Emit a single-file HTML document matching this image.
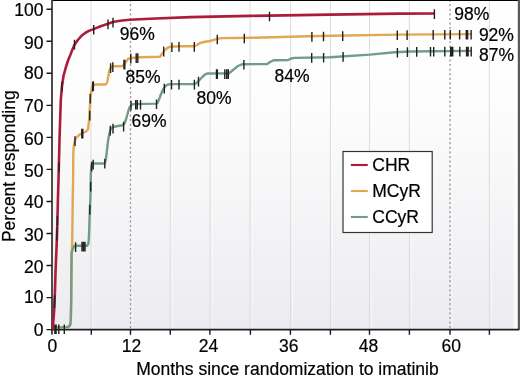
<!DOCTYPE html><html><head><meta charset="utf-8"><style>html,body{margin:0;padding:0;background:#fff;}svg{display:block;will-change:transform;}text{font-family:"Liberation Sans",sans-serif;fill:#000;stroke:#000;stroke-width:0.2px;}</style></head><body>
<svg width="520" height="378" viewBox="0 0 520 378">
<defs><linearGradient id="bg" x1="0" y1="0" x2="0" y2="1"><stop offset="0" stop-color="#ffffff"/><stop offset="0.3" stop-color="#fdfdfd"/><stop offset="1" stop-color="#ececf0"/></linearGradient></defs>
<rect x="52.0" y="0" width="466.5" height="329.6" fill="url(#bg)"/>
<path d="M90.9,1V328.6M170.3,1V328.6M210.1,1V328.6M250.1,1V328.6M290.6,1V328.6M330.4,1V328.6M369.5,1V328.6M409.4,1V328.6M489.4,1V328.6" stroke="#dcdcdc" stroke-width="1" fill="none"/>
<path d="M92.9,1V328.6M132.5,1V328.6M172.3,1V328.6M212.1,1V328.6M252.1,1V328.6M292.6,1V328.6M332.4,1V328.6M371.5,1V328.6M411.4,1V328.6M452.0,1V328.6M491.4,1V328.6" stroke="#ffffff" stroke-width="1.3" stroke-opacity="0.4" fill="none"/>
<path d="M130.5,1V328.6M450.0,1V328.6" stroke="#9a9a9a" stroke-width="1.3" stroke-dasharray="2.2,2.4" stroke-dashoffset="1.5" fill="none"/>
<path d="M52.0,0.5H519.5" stroke="#000" stroke-width="1.1" fill="none"/>
<rect x="513.6" y="1" width="4" height="328" fill="#ffffff" opacity="0.7"/>
<rect x="517.8" y="0" width="2.2" height="329.8" fill="#5a5a5a"/>
<path d="M52.0,0V334.6" stroke="#444" stroke-width="1.9" fill="none"/>
<path d="M51.2,329.7H519.2" stroke="#1e1e1e" stroke-width="1.8" fill="none"/>
<path d="M46.5,329.6H52.0M46.5,297.6H52.0M46.5,265.5H52.0M46.5,233.5H52.0M46.5,201.5H52.0M46.5,169.4H52.0M46.5,137.4H52.0M46.5,105.4H52.0M46.5,73.3H52.0M46.5,41.3H52.0M46.5,9.2H52.0M91.3,330.1V334.8M130.5,330.1V334.8M170.3,330.1V334.8M209.9,330.1V334.8M250.4,330.1V334.8M290.4,330.1V334.8M330.4,330.1V334.8M369.5,330.1V334.8M409.4,330.1V334.8M450.0,330.1V334.8M489.4,330.1V334.8" stroke="#1a1a1a" stroke-width="1.4" fill="none"/>
<path d="M52.0,327.4 L66.5,327.4 L69.0,326.5 L70.3,324.5 L70.8,321.0 L71.2,300.0 L71.5,270.0 L71.9,252.0 L72.2,240.0 L72.5,220.0 L72.7,200.0 L73.1,180.0 L73.3,155.0 L73.6,148.0 L74.3,143.0 L75.0,140.5 L76.0,138.0 L78.0,136.0 L80.5,134.0 L82.3,133.0 L86.0,131.5 L88.0,129.5 L88.9,122.0 L90.0,105.0 L91.2,92.0 L92.2,87.0 L93.5,85.0 L96.0,84.5 L105.8,84.5 L107.3,82.0 L108.2,77.0 L109.0,72.0 L110.0,69.0 L111.5,67.0 L113.0,66.3 L122.3,66.3 L124.4,64.0 L126.1,61.4 L128.0,59.0 L130.8,58.0 L140.0,57.3 L160.0,56.8 L162.5,53.0 L165.0,50.0 L168.0,47.5 L170.3,46.8 L180.0,46.3 L194.5,46.3 L197.0,45.0 L200.0,43.0 L203.8,42.0 L210.0,41.0 L217.3,38.9 L222.0,38.1 L250.0,37.8 L290.0,36.8 L330.0,35.7 L400.0,34.6 L471.7,34.1" stroke="#e1a753" stroke-width="2.4" fill="none" stroke-linejoin="round"/>
<path d="M52.0,327.4 L66.5,327.4 L69.0,326.5 L70.3,324.5 L70.8,321.0 L71.2,300.0 L71.4,270.0 L71.5,253.0 L72.3,250.0 L74.3,245.8 L87.0,245.8 L88.3,244.0 L88.9,238.0 L89.5,220.0 L90.5,195.0 L90.8,175.0 L91.2,167.0 L92.2,164.2 L93.5,163.5 L104.8,163.5 L105.8,160.0 L107.0,150.0 L108.2,140.0 L109.3,134.0 L110.5,129.5 L112.0,127.7 L114.0,126.8 L118.0,126.0 L122.5,125.2 L124.5,123.5 L125.8,120.0 L127.5,114.0 L129.4,107.6 L131.5,104.6 L134.0,104.1 L156.5,103.6 L157.5,103.0 L159.0,99.5 L160.7,95.0 L162.5,90.5 L164.5,87.5 L166.0,85.6 L168.0,84.5 L171.0,84.1 L194.6,84.0 L196.5,83.0 L198.5,81.0 L200.5,79.0 L202.3,77.0 L204.5,75.0 L206.5,73.8 L208.5,73.5 L229.0,73.4 L233.0,70.0 L238.0,66.0 L242.6,64.2 L267.2,64.0 L270.0,62.0 L274.0,60.2 L288.3,60.0 L291.0,58.5 L294.7,57.9 L330.0,57.2 L370.0,54.6 L394.6,52.3 L410.0,51.5 L471.7,50.9" stroke="#729d85" stroke-width="2.4" fill="none" stroke-linejoin="round"/>
<path d="M52.8,329.5 L53.3,322.0 L54.2,310.0 L55.0,290.0 L55.6,270.0 L56.1,258.0 L56.6,246.0 L57.3,225.0 L57.9,200.0 L58.5,180.0 L59.5,140.0 L60.3,115.0 L60.8,100.0 L62.0,86.0 L63.5,76.0 L65.7,67.8 L68.0,60.5 L70.4,54.8 L74.0,45.6 L77.8,40.0 L81.5,35.8 L85.8,32.5 L89.5,30.6 L93.7,29.1 L100.0,26.5 L108.0,23.8 L113.0,22.0 L120.0,20.8 L130.0,19.8 L150.0,18.7 L190.0,17.1 L250.0,15.9 L330.0,14.6 L400.0,13.6 L434.4,13.5" stroke="#ad1b3a" stroke-width="2.6" fill="none" stroke-linejoin="round"/>
<path d="M62.0,81.8V91.4M74.5,39.8V49.4M93.7,24.9V34.5M108.0,19.6V29.2M113.0,17.8V27.4M269.5,11.7V21.3M434.4,9.3V18.9M59.0,162.5V172.1M57.4,215.8V225.4M57.0,227.3V236.9M56.9,230.8V240.4M54.7,295.3V304.9M54.5,298.3V307.9M75.0,136.3V145.9M81.8,128.8V138.4M82.8,128.8V138.4M92.6,81.8V91.4M93.4,81.3V90.9M90.2,93.8V103.4M89.8,110.8V120.4M110.6,63.3V72.9M112.8,62.3V71.9M124.0,59.8V69.4M124.8,59.8V69.4M130.8,53.8V63.4M136.2,53.3V62.9M137.8,53.3V62.9M163.7,46.8V56.4M171.9,42.5V52.1M179.0,42.1V51.7M194.3,42.1V51.7M217.3,34.7V44.3M244.3,33.7V43.3M311.9,32.1V41.7M323.5,31.7V41.3M342.7,31.3V40.9M397.3,30.4V40.0M407.1,30.3V39.9M433.2,30.1V39.7M444.8,30.0V39.6M450.3,30.0V39.6M459.6,29.9V39.5M466.3,29.9V39.5M467.6,29.9V39.5M471.1,29.9V39.5M54.9,324.4V334.0M56.1,324.4V334.0M58.8,324.4V334.0M64.3,324.4V334.0M75.6,242.3V251.9M82.0,241.8V251.4M83.5,241.8V251.4M85.0,241.8V251.4M89.8,204.8V214.4M90.7,181.8V191.4M91.6,161.8V171.4M93.2,159.8V169.4M104.8,158.8V168.4M110.3,125.8V135.4M113.0,123.8V133.4M123.6,121.8V131.4M131.0,100.8V110.4M135.7,100.0V109.6M137.3,100.0V109.6M140.5,99.9V109.5M156.5,99.4V109.0M164.3,83.8V93.4M171.5,79.9V89.5M179.0,79.8V89.4M194.4,79.8V89.4M198.5,76.8V86.4M216.5,69.3V78.9M217.3,69.3V78.9M224.8,69.3V78.9M226.7,69.3V78.9M228.3,69.3V78.9M243.9,60.0V69.6M311.7,53.1V62.7M323.6,52.9V62.5M343.1,52.1V61.7M397.4,47.9V57.5M407.4,47.3V56.9M416.7,47.1V56.7M430.5,46.9V56.5M433.7,46.9V56.5M444.8,46.8V56.4M450.7,46.8V56.4M451.5,46.8V56.4M452.7,46.8V56.4M459.8,46.8V56.4M466.6,46.8V56.4M467.4,46.8V56.4M468.1,46.8V56.4M471.2,46.8V56.4" stroke="#202020" stroke-width="1.4" fill="none"/>
<text x="119.7" y="39.9" font-size="17.5">96%</text>
<text x="125.5" y="83.1" font-size="17.5">85%</text>
<text x="131.6" y="126.6" font-size="17.5">69%</text>
<text x="196.6" y="103.8" font-size="17.5">80%</text>
<text x="274.5" y="82.19999999999999" font-size="17.5">84%</text>
<text x="454.3" y="20.400000000000002" font-size="17.5">98%</text>
<text x="478.9" y="41.4" font-size="17.5">92%</text>
<text x="479.09999999999997" y="60.5" font-size="17.5">87%</text>
<text x="43.5" y="335.6" font-size="17.5" text-anchor="end">0</text>
<text x="43.5" y="303.3" font-size="17.5" text-anchor="end">10</text>
<text x="43.5" y="272.7" font-size="17.5" text-anchor="end">20</text>
<text x="43.5" y="240.7" font-size="17.5" text-anchor="end">30</text>
<text x="43.5" y="207.8" font-size="17.5" text-anchor="end">40</text>
<text x="43.5" y="176.6" font-size="17.5" text-anchor="end">50</text>
<text x="43.5" y="144.6" font-size="17.5" text-anchor="end">60</text>
<text x="43.5" y="112.0" font-size="17.5" text-anchor="end">70</text>
<text x="43.5" y="78.8" font-size="17.5" text-anchor="end">80</text>
<text x="43.5" y="48.5" font-size="17.5" text-anchor="end">90</text>
<text x="43.5" y="16.4" font-size="17.5" text-anchor="end">100</text>
<text x="52.4" y="352.3" font-size="17.5" text-anchor="middle">0</text>
<text x="131.5" y="352.3" font-size="17.5" text-anchor="middle">12</text>
<text x="208.4" y="352.3" font-size="17.5" text-anchor="middle">24</text>
<text x="288.8" y="352.3" font-size="17.5" text-anchor="middle">36</text>
<text x="368.5" y="352.3" font-size="17.5" text-anchor="middle">48</text>
<text x="451.2" y="352.3" font-size="17.5" text-anchor="middle">60</text>
<text x="287.4" y="374.8" font-size="17.5" text-anchor="middle">Months since randomization to imatinib</text>
<text transform="translate(15.3,166.2) rotate(-90)" x="0" y="0" font-size="17.5" text-anchor="middle">Percent responding</text>
<rect x="343" y="151.5" width="89.2" height="81" fill="#fff" stroke="#333" stroke-width="1.2"/>
<path d="M350.9,165.0H367.8" stroke="#ad1b3a" stroke-width="2.1"/>
<text x="372.3" y="171.0" font-size="17.5">CHR</text>
<path d="M350.9,191.0H367.8" stroke="#e1a753" stroke-width="2.1"/>
<text x="372.3" y="197.0" font-size="17.5">MCyR</text>
<path d="M350.9,217.0H367.8" stroke="#729d85" stroke-width="2.1"/>
<text x="372.3" y="223.0" font-size="17.5">CCyR</text>
</svg></body></html>
